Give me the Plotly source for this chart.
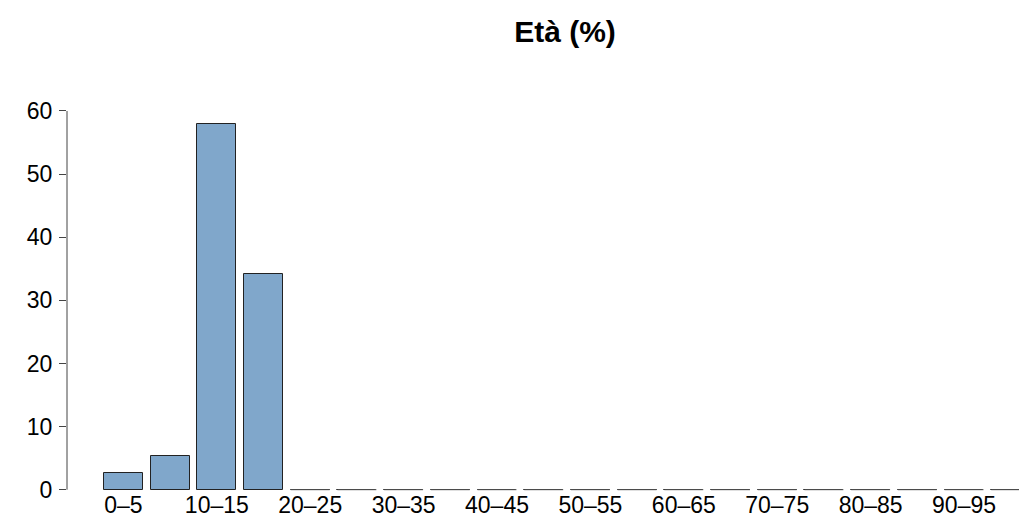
import plotly.graph_objects as go

categories = ["0–5", "5–10", "10–15", "15–20", "20–25", "25–30", "30–35", "35–40",
              "40–45", "45–50", "50–55", "55–60", "60–65", "65–70", "70–75", "75–80",
              "80–85", "85–90", "90–95", "95–100"]
values = [2.6, 5.3, 57.9, 34.2, 0, 0, 0, 0, 0, 0, 0, 0, 0, 0, 0, 0, 0, 0, 0, 0]
y_ticks = [0, 10, 20, 30, 40, 50, 60]
title_text = "Età (%)"

FONT = "Liberation Sans, Arial, Helvetica, sans-serif"
BAR_W = 1 / 1.2
idx = list(range(len(categories)))

fig = go.Figure()
fig.add_trace(go.Bar(
    x=idx, y=values, width=BAR_W,
    marker=dict(color="#80A7CB", line=dict(color="#222222", width=1)),
    hoverinfo="x+y", showlegend=False,
))

# zero-height bars drawn as their border line at the baseline (as R does)
zx, zy = [], []
for i, v in zip(idx, values):
    if v == 0:
        zx += [i - BAR_W / 2, i + BAR_W / 2, None]
        zy += [v, v, None]
fig.add_trace(go.Scatter(x=zx, y=zy, mode="lines",
                         line=dict(color="#555555", width=1),
                         hoverinfo="skip", showlegend=False))

fig.update_layout(
    width=1019, height=520,
    margin=dict(l=67, r=0, t=100, b=24, autoexpand=False),
    plot_bgcolor="white", paper_bgcolor="white",
    font=dict(family=FONT, size=23, color="black"),
    title=dict(text="<b>" + title_text + "</b>", font=dict(size=30, family=FONT, color="black"),
               x=565 / 1019, xanchor="center", xref="container",
               y=1 - 31 / 520, yanchor="middle", yref="container"),
    xaxis=dict(range=[-1.208, 19.177], showgrid=False, zeroline=False, showline=False,
               automargin=False,
               tickmode="array", tickvals=idx[::2], ticktext=categories[::2],
               ticks="", ticklabelstandoff=-7,
               tickfont=dict(size=23, family=FONT, color="black")),
    yaxis=dict(range=[-1.0, 61.74], showgrid=False, zeroline=False, showline=False,
               automargin=False,
               tickmode="array", tickvals=y_ticks, ticktext=[str(t) for t in y_ticks],
               ticks="outside", ticklen=7, tickwidth=1, tickcolor="#444444",
               ticklabelstandoff=2,
               tickfont=dict(size=23, family=FONT, color="black")),
    bargap=0,
)

fig.add_shape(type="line", xref="paper", yref="y", x0=0, x1=0,
              y0=y_ticks[0], y1=y_ticks[-1], line=dict(color="#444444", width=1))

fig.write_html("out.html", config={"displayModeBar": False},
               post_script="document.body.style.margin='0';")
